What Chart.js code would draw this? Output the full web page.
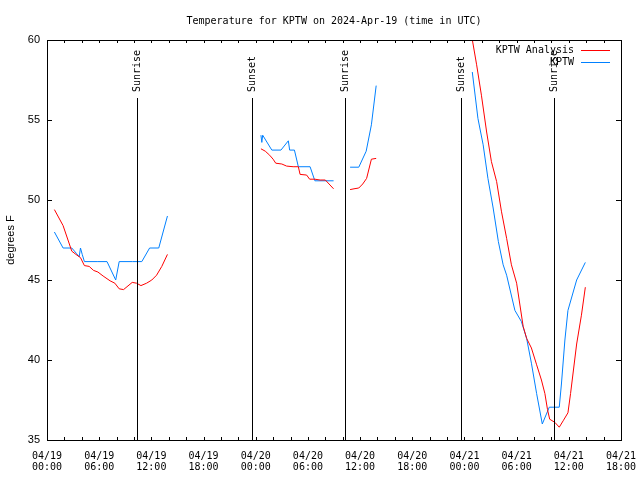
<!DOCTYPE html>
<html>
<head>
<meta charset="utf-8">
<script src="https://cdn.jsdelivr.net/npm/chart.js@4.4.1/dist/chart.umd.min.js"></script>
<style>
  html, body { margin: 0; padding: 0; background: #fff; }
  canvas { display: block; }
</style>
</head>
<body>
<canvas id="tempChart" width="640" height="480"></canvas>
<script>
// hours since 04/19 00:00 UTC, null temp = gap in the line
const analysisHours = [
  0.85, 1.85, 2.85, 3.45, 3.85, 4.3, 4.85, 5.35, 5.85, 6.45, 7.25, 7.8, 8.3, 8.8, 9.8, 10.3, 10.8, 11.45, 12.05, 12.6, 13.2, 13.85,
  19,
  24.6, 25.1, 25.6, 26.0, 26.3, 27.0, 27.55, 28.3, 28.9, 29.1, 29.85, 30.2, 30.8, 31.4, 32.0, 32.95,
  34,
  34.85, 35.3, 35.85, 36.3, 36.75, 37.3, 37.85,
  43,
  48.5, 49.4, 49.95, 50.55, 51.1, 51.7, 52.25, 52.85, 53.4, 54.0, 54.75, 55.15, 55.7, 56.3, 56.85, 57.25, 57.55, 57.8, 58.4, 58.9, 59.35, 59.9, 60.2, 60.9, 61.45, 61.9,
];
const analysisTemps = [
  49.4, 48.4, 46.8, 46.55, 46.4, 45.9, 45.85, 45.6, 45.5, 45.25, 44.95, 44.8, 44.45, 44.4, 44.85, 44.8, 44.65, 44.8, 45.0, 45.3, 45.85, 46.6,
  null,
  53.2, 53.05, 52.8, 52.55, 52.3, 52.25, 52.12, 52.08, 52.08, 51.6, 51.56, 51.3, 51.3, 51.25, 51.25, 50.7,
  null,
  50.65, 50.7, 50.75, 51.0, 51.35, 52.55, 52.6,
  null,
  61.3, 58.45, 56.55, 54.25, 52.4, 51.15, 49.3, 47.6, 45.95, 44.8, 42.1, 41.35, 40.75, 39.7, 38.75, 37.9, 36.9, 36.3, 36.1, 35.8, 36.2, 36.7, 37.9, 41.0, 42.8, 44.55,
];

const obsHours = [
  0.85, 1.85, 2.85, 3.4, 3.7, 3.85, 4.05, 4.3, 5.85, 6.9, 7.9, 8.3, 9.85, 10.9, 11.8, 12.85, 13.85,
  19,
  24.6, 24.7, 24.8, 25.85, 26.9, 27.75, 27.9, 28.45, 28.9, 30.25, 30.8, 32.95,
  34,
  34.85, 35.85, 36.7, 37.3, 37.85,
  43,
  48.9, 49.55, 50.15, 50.7, 51.3, 51.9, 52.45, 52.85, 53.8, 54.55, 55.15, 55.7, 56.3, 56.95, 57.75, 58.9, 59.15, 59.55, 59.9, 60.9, 61.9,
];
const obsTemps = [
  48.0, 47.0, 47.0, 46.65, 46.45, 47.0, 46.6, 46.15, 46.15, 46.15, 45.0, 46.15, 46.15, 46.15, 47.0, 47.0, 49.0,
  null,
  54.05, 53.6, 54.05, 53.12, 53.12, 53.7, 53.12, 53.12, 52.08, 52.08, 51.2, 51.2,
  null,
  52.05, 52.05, 53.05, 54.7, 57.15,
  null,
  58.0, 55.1, 53.45, 51.35, 49.5, 47.4, 45.95, 45.3, 43.1, 42.4, 41.35, 39.8, 37.9, 36.0, 37.05, 37.05, 38.5, 41.25, 43.1, 45.0, 46.1,
];

const tickDates = ["04/19", "04/19", "04/19", "04/19", "04/20", "04/20", "04/20", "04/20", "04/21", "04/21", "04/21", "04/21"];
const tickTimes = ["00:00", "06:00", "12:00", "18:00", "00:00", "06:00", "12:00", "18:00", "00:00", "06:00", "12:00", "18:00"];

const sunHours = [10.3, 23.6, 34.27, 47.65, 58.3];
const sunLabels = ["Sunrise", "Sunset", "Sunrise", "Sunset", "Sunrise"];

const monoFont = "'DejaVu Sans Mono', 'Liberation Mono', monospace";
const sansFont = "'Liberation Sans', Arial, sans-serif";

function toPoints(hours, temps) {
  return hours.map((h, i) => ({ x: h, y: temps[i] }));
}

// gnuplot style frame, inward ticks, sun markers and key
const gnuplotDecor = {
  id: "gnuplotDecor",
  afterDraw(chart) {
    const ctx = chart.ctx;
    const { left, right, top, bottom } = chart.chartArea;
    const xs = chart.scales.x;
    const ys = chart.scales.y;
    ctx.save();
    ctx.strokeStyle = "#000";
    ctx.lineWidth = 1;

    ctx.beginPath();
    for (let h = xs.min; h <= xs.max; h += 2) {
      const px = Math.round(xs.getPixelForValue(h)) + 0.5;
      ctx.moveTo(px, bottom);
      ctx.lineTo(px, bottom - 3);
      ctx.moveTo(px, top);
      ctx.lineTo(px, top + 3);
    }
    for (let v = ys.min; v <= ys.max; v += 5) {
      const py = Math.round(ys.getPixelForValue(v)) + 0.5;
      ctx.moveTo(left, py);
      ctx.lineTo(left + 5, py);
      ctx.moveTo(right, py);
      ctx.lineTo(right - 5, py);
    }
    ctx.stroke();

    ctx.strokeRect(Math.round(left) + 0.5, Math.round(top) + 0.5, Math.round(right - left), Math.round(bottom - top));

    // sunrise / sunset
    ctx.font = "10px " + monoFont;
    ctx.fillStyle = "#000";
    sunHours.forEach((h, i) => {
      const px = Math.round(xs.getPixelForValue(h)) + 0.5;
      ctx.beginPath();
      ctx.moveTo(px, top + 58);
      ctx.lineTo(px, bottom);
      ctx.stroke();
      ctx.save();
      ctx.translate(px, top + 52);
      ctx.rotate(-Math.PI / 2);
      ctx.textAlign = "left";
      ctx.textBaseline = "middle";
      ctx.fillText(sunLabels[i], 0, 0);
      ctx.restore();
    });

    // key
    ctx.textAlign = "right";
    ctx.textBaseline = "middle";
    chart.data.datasets.forEach((ds, i) => {
      const y = top + 10 + i * 12;
      ctx.fillStyle = "#000";
      ctx.fillText(ds.label, right - 47, y);
      ctx.strokeStyle = ds.borderColor;
      ctx.beginPath();
      ctx.moveTo(right - 40, y + 0.5);
      ctx.lineTo(right - 11, y + 0.5);
      ctx.stroke();
    });
    ctx.restore();
  },
};

const ctx = document.getElementById("tempChart").getContext("2d");
new Chart(ctx, {
  type: "line",
  data: {
    datasets: [
      {
        label: "KPTW Analysis",
        data: toPoints(analysisHours, analysisTemps),
        borderColor: "#ff0000",
        borderWidth: 1,
        pointRadius: 0,
        fill: false,
        tension: 0,
      },
      {
        label: "KPTW",
        data: toPoints(obsHours, obsTemps),
        borderColor: "#0080ff",
        borderWidth: 1,
        pointRadius: 0,
        fill: false,
        tension: 0,
      },
    ],
  },
  options: {
    responsive: false,
    animation: false,
    spanGaps: false,
    layout: { padding: { top: 0, right: 19, bottom: 0, left: 0 } },
    plugins: {
      legend: { display: false },
      tooltip: { enabled: false },
      title: {
        display: true,
        fullSize: false,
        text: "Temperature for KPTW on 2024-Apr-19 (time in UTC)",
        color: "#000",
        font: { family: monoFont, size: 10, weight: "normal" },
        padding: { top: 15, bottom: 13 },
      },
    },
    scales: {
      x: {
        type: "linear",
        min: 0,
        max: 66,
        grid: { display: false, drawTicks: false },
        border: { display: false },
        ticks: {
          stepSize: 6,
          autoSkip: false,
          maxRotation: 0,
          padding: 11,
          color: "#000",
          font: { family: monoFont, size: 10, lineHeight: 1.1 },
          callback: (v) => {
            const i = Math.round(v / 6);
            return [tickDates[i], tickTimes[i]];
          },
        },
        afterFit: (scale) => {
          scale.height = 40;
          scale.paddingLeft = 0;
          scale.paddingRight = 0;
        },
      },
      y: {
        min: 35,
        max: 60,
        grid: { display: false, drawTicks: false },
        border: { display: false },
        ticks: {
          stepSize: 5,
          padding: 7,
          color: "#000",
          font: { family: sansFont, size: 11 },
        },
        title: {
          display: true,
          text: "degrees F",
          color: "#000",
          font: { family: sansFont, size: 11 },
          padding: { top: 4, bottom: 0 },
        },
        afterFit: (scale) => {
          scale.width = 47;
        },
      },
    },
  },
  plugins: [gnuplotDecor],
});
</script>
</body>
</html>
